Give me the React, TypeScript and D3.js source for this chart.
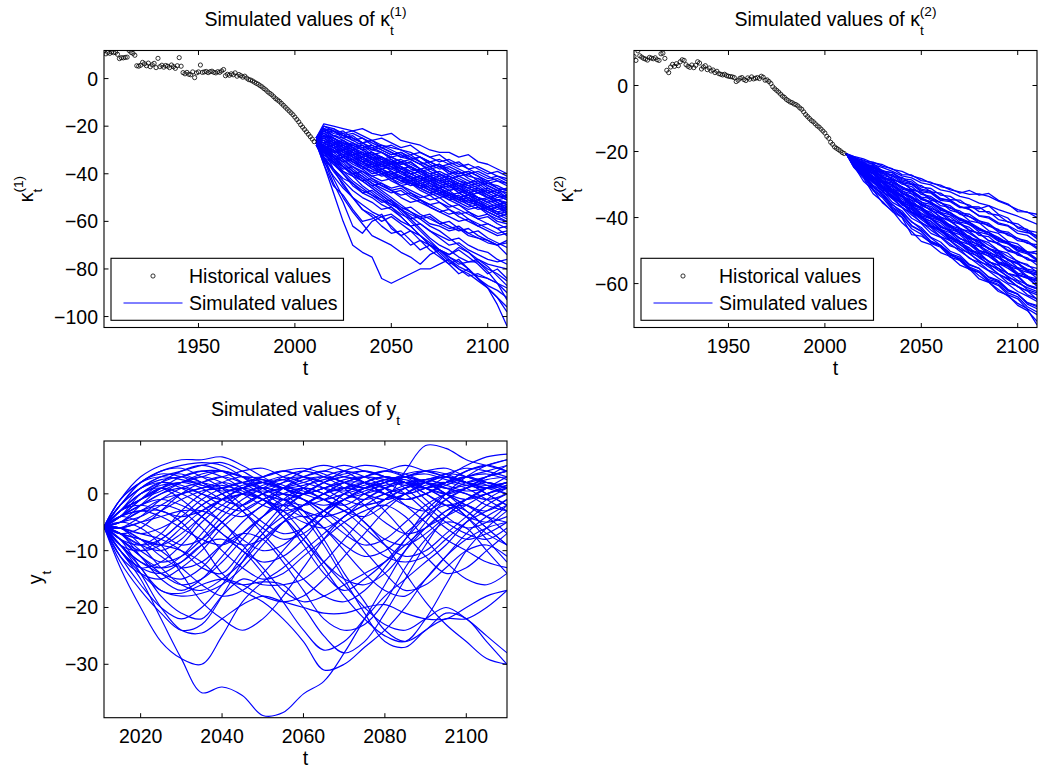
import React from 'react';
import * as d3 from 'd3';

// ---------------- DATA ----------------
const HIST_YEARS = d3.range(1901, 2011);
const SIM_YEARS = [2011, 2015, 2020, 2025, 2030, 2035, 2040, 2045, 2050, 2055, 2060, 2065, 2070, 2075, 2080, 2085, 2090, 2095, 2100, 2105, 2110];

const K1_HIST = [
  11.6, 10.4, 11.0, 10.6, 11.2, 10.9, 11.0, 10.2, 8.4, 8.8,
  8.7, 8.9, 9.0, 11.8, 11.0, 10.6, 9.8, 5.4, 5.2, 5.6,
  6.8, 6.2, 5.4, 6.5, 5.0, 5.8, 6.4, 4.6, 8.5, 5.0,
  5.6, 4.8, 5.5, 5.2, 4.6, 5.7, 5.0, 4.3, 5.4, 8.8,
  5.2, 2.5, 2.0, 2.6, 1.8, 1.6, 2.8, 0.4, 2.4, 2.8,
  5.7, 2.6, 2.8, 3.0, 2.5, 2.9, 3.1, 2.6, 2.4, 2.9,
  2.6, 3.2, 3.8, 1.2, 1.8, 1.4, 2.0, 1.6, 2.4, 1.0,
  1.7, 1.2, 0.6, 1.0, 0.2, -0.4, -0.6, -1.0, -1.5, -2.0,
  -2.4, -3.0, -3.5, -4.2, -4.8, -5.6, -6.2, -6.8, -7.6, -8.4,
  -9.0, -9.6, -10.4, -11.2, -12.0, -12.8, -13.6, -14.4, -15.2, -16.2,
  -17.2, -18.2, -19.4, -20.4, -21.4, -22.4, -23.4, -24.4, -25.4, -26.5,
];

const K2_HIST = [
  8.8, 7.6, 10.5, 9.0, 8.6, 8.2, 8.0, 7.7, 8.5, 8.3,
  8.1, 8.4, 7.8, 7.6, 9.6, 9.8, 8.2, 4.6, 3.9, 5.6,
  6.4, 5.8, 6.6, 6.0, 7.2, 7.8, 7.6, 6.3, 5.8, 5.5,
  6.2, 5.4, 6.1, 7.2, 6.8, 5.0, 5.6, 6.0, 4.8, 5.3,
  4.4, 4.7, 3.9, 4.3, 3.6, 3.4, 3.2, 3.4, 3.0, 2.8,
  2.7, 2.6, 2.4, 1.2, 1.6, 2.2, 2.4, 1.8, 1.5, 2.3,
  1.9, 2.6, 2.0, 2.2, 2.4, 2.1, 2.8, 2.5, 1.6, 1.7,
  1.2, 0.6, -0.4, -1.0, -1.5, -2.0, -2.6, -3.2, -3.6, -4.2,
  -4.6, -5.0, -5.2, -5.6, -5.8, -6.2, -6.8, -7.2, -8.0, -8.8,
  -9.4, -10.0, -10.6, -11.0, -11.6, -12.2, -12.6, -13.2, -13.8, -14.4,
  -15.4, -16.0, -17.2, -17.8, -18.6, -19.0, -19.4, -19.8, -20.3, -20.6,
];

const K1_SIM = [
  [-25, -19, -20, -21, -22, -21, -23, -24, -23, -26, -27, -28, -30, -31, -31, -33, -32, -35, -36, -38, -40],
  [-26, -21, -22, -24, -25, -27, -26, -28, -29, -30, -32, -31, -33, -35, -34, -36, -38, -37, -39, -41, -42],
  [-27, -24, -25, -27, -28, -27, -30, -31, -33, -32, -34, -36, -35, -37, -39, -40, -39, -41, -43, -42, -44],
  [-26, -25, -28, -27, -30, -32, -31, -33, -35, -36, -35, -38, -40, -39, -41, -43, -44, -42, -45, -47, -46],
  [-25, -22, -24, -23, -26, -28, -30, -29, -31, -33, -34, -33, -36, -38, -37, -39, -41, -42, -44, -43, -45],
  [-27, -28, -30, -32, -31, -34, -36, -35, -37, -39, -40, -42, -41, -43, -45, -44, -46, -48, -47, -49, -50],
  [-26, -27, -26, -29, -31, -33, -32, -35, -36, -38, -37, -40, -42, -44, -43, -45, -47, -46, -49, -51, -52],
  [-28, -30, -33, -35, -34, -37, -39, -41, -40, -43, -44, -46, -45, -48, -50, -49, -52, -53, -55, -54, -56],
  [-26, -24, -27, -29, -28, -30, -33, -34, -36, -35, -38, -39, -41, -43, -42, -45, -46, -48, -50, -49, -51],
  [-27, -29, -31, -30, -33, -35, -37, -36, -39, -41, -43, -42, -45, -46, -48, -50, -49, -51, -53, -55, -54],
  [-25, -23, -25, -28, -30, -29, -32, -34, -33, -35, -37, -39, -38, -40, -42, -44, -45, -47, -46, -48, -50],
  [-26, -26, -29, -31, -34, -36, -35, -38, -40, -42, -41, -44, -46, -48, -47, -50, -52, -51, -54, -56, -58],
  [-27, -31, -34, -33, -36, -38, -41, -40, -43, -45, -44, -47, -49, -48, -51, -53, -55, -54, -57, -59, -60],
  [-26, -28, -27, -30, -32, -31, -34, -36, -38, -37, -40, -42, -41, -44, -46, -45, -48, -50, -52, -51, -53],
  [-28, -33, -36, -39, -41, -43, -42, -45, -47, -46, -49, -51, -53, -52, -55, -57, -56, -59, -61, -63, -62],
  [-25, -20, -22, -24, -23, -25, -27, -29, -28, -30, -31, -33, -35, -34, -36, -35, -38, -40, -42, -41, -43],
  [-27, -30, -29, -32, -35, -37, -36, -39, -41, -43, -45, -44, -47, -49, -51, -50, -53, -55, -54, -57, -59],
  [-26, -25, -28, -26, -29, -31, -33, -35, -34, -37, -39, -41, -43, -42, -45, -47, -49, -48, -50, -52, -55],
  [-27, -32, -35, -38, -37, -40, -43, -45, -47, -49, -48, -51, -53, -55, -57, -56, -59, -61, -63, -65, -64],
  [-26, -27, -30, -33, -32, -35, -37, -39, -42, -41, -44, -46, -48, -50, -49, -52, -54, -53, -56, -58, -60],
  [-25, -21, -23, -22, -25, -27, -26, -29, -31, -33, -32, -35, -37, -36, -39, -41, -40, -43, -45, -47, -48],
  [-27, -29, -32, -34, -37, -39, -41, -43, -42, -45, -47, -49, -51, -50, -53, -55, -57, -59, -58, -61, -63],
  [-26, -24, -26, -29, -31, -34, -33, -36, -37, -39, -42, -41, -43, -45, -47, -46, -48, -50, -51, -53, -52],
  [-28, -34, -38, -42, -44, -47, -49, -51, -53, -55, -57, -59, -58, -61, -63, -62, -65, -67, -68, -70, -69],
  [-26, -28, -31, -30, -33, -36, -38, -40, -39, -42, -44, -43, -46, -47, -49, -51, -50, -53, -55, -57, -56],
  [-27, -31, -33, -36, -39, -41, -44, -46, -48, -47, -50, -52, -54, -56, -55, -58, -60, -62, -61, -63, -66],
  [-25, -22, -21, -24, -26, -25, -28, -30, -32, -31, -34, -36, -38, -37, -40, -39, -42, -44, -43, -46, -47],
  [-26, -27, -29, -28, -31, -33, -35, -37, -36, -38, -40, -42, -44, -46, -45, -48, -50, -52, -54, -53, -55],
  [-27, -30, -34, -37, -40, -42, -45, -44, -47, -50, -52, -51, -54, -56, -58, -60, -59, -62, -64, -66, -65],
  [-26, -23, -26, -28, -27, -30, -32, -31, -34, -36, -35, -38, -40, -42, -41, -43, -45, -44, -47, -49, -51],
  [-26, -29, -28, -31, -33, -35, -34, -37, -38, -40, -42, -41, -43, -45, -47, -46, -49, -50, -52, -54, -53],
  [-25, -24, -27, -26, -29, -32, -34, -33, -36, -38, -37, -40, -42, -41, -44, -46, -48, -47, -49, -51, -50],
  [-27, -26, -28, -31, -30, -33, -35, -37, -36, -39, -41, -43, -42, -45, -44, -47, -49, -51, -50, -52, -54],
  [-26, -22, -25, -27, -29, -28, -31, -33, -35, -34, -36, -38, -37, -40, -42, -41, -43, -45, -44, -46, -49],
  [-28, -31, -30, -33, -35, -38, -37, -40, -42, -41, -44, -45, -47, -49, -48, -51, -53, -52, -55, -57, -56],
  [-26, -25, -24, -26, -28, -30, -29, -31, -33, -35, -34, -36, -39, -41, -40, -42, -44, -43, -46, -48, -47],
  [-27, -28, -31, -29, -32, -34, -36, -38, -37, -40, -42, -41, -44, -46, -45, -48, -47, -50, -52, -51, -53],
  [-25, -21, -24, -25, -24, -27, -29, -28, -30, -32, -34, -33, -35, -37, -36, -38, -40, -39, -41, -43, -44],
  [-26, -30, -32, -35, -34, -37, -39, -38, -41, -43, -42, -45, -47, -46, -49, -51, -50, -53, -55, -54, -57],
  [-27, -25, -27, -30, -32, -31, -34, -36, -35, -38, -40, -39, -42, -44, -43, -46, -48, -47, -50, -51, -53],
  [-26, -27, -29, -32, -34, -33, -36, -38, -40, -39, -42, -44, -43, -46, -48, -50, -49, -52, -54, -53, -56],
  [-25, -23, -22, -25, -27, -29, -28, -30, -32, -31, -33, -35, -37, -36, -38, -40, -39, -41, -44, -45, -47],
  [-27, -30, -33, -32, -35, -37, -40, -39, -42, -44, -43, -46, -48, -47, -50, -52, -51, -54, -56, -58, -57],
  [-26, -26, -28, -30, -29, -32, -34, -33, -35, -37, -39, -38, -41, -43, -42, -44, -46, -45, -48, -50, -49],
  [-28, -32, -35, -37, -40, -39, -42, -44, -46, -45, -48, -50, -49, -52, -54, -53, -56, -58, -57, -60, -61],
  [-26, -24, -25, -28, -30, -32, -31, -34, -36, -35, -37, -39, -41, -40, -43, -45, -44, -46, -48, -47, -50],
  [-27, -29, -30, -33, -32, -35, -38, -40, -39, -42, -43, -45, -44, -47, -49, -48, -51, -52, -54, -56, -55],
  [-25, -20, -21, -23, -22, -24, -26, -25, -27, -29, -28, -31, -33, -32, -35, -37, -36, -38, -40, -39, -41],
  [-27, -33, -38, -43, -47, -50, -52, -55, -54, -57, -59, -58, -61, -62, -64, -63, -66, -67, -69, -70, -68],
  [-26, -31, -36, -40, -45, -48, -47, -50, -53, -55, -54, -57, -59, -61, -60, -63, -65, -64, -67, -69, -71],
  [-27, -35, -41, -46, -50, -53, -56, -58, -57, -60, -62, -61, -64, -66, -68, -67, -70, -72, -73, -76, -78],
  [-26, -30, -34, -39, -43, -46, -49, -52, -51, -54, -56, -58, -57, -60, -62, -64, -63, -66, -68, -70, -74],
  [-27, -36, -48, -60, -70, -73, -75, -84, -86, -84, -82, -80, -80, -78, -76, -80, -82, -85, -88, -92, -96],
  [-27, -34, -44, -52, -62, -65, -60, -58, -62, -66, -70, -68, -72, -75, -78, -76, -80, -84, -88, -95, -104],
  [-26, -30, -38, -45, -50, -55, -58, -62, -65, -64, -68, -72, -70, -74, -78, -82, -80, -84, -88, -92, -98],
  [-27, -30, -35, -40, -44, -48, -50, -53, -55, -58, -62, -66, -70, -73, -77, -80, -83, -82, -84, -86, -90],
  [-26, -29, -33, -37, -40, -43, -46, -49, -52, -56, -60, -64, -68, -72, -74, -72, -75, -78, -82, -80, -84],
  [-27, -33, -39, -44, -50, -55, -57, -60, -58, -61, -64, -66, -70, -72, -75, -77, -80, -84, -87, -89, -92],
  [-26, -28, -32, -35, -39, -42, -45, -48, -51, -55, -59, -63, -67, -70, -72, -75, -77, -77, -80, -82, -85],
  [-27, -33, -42, -50, -56, -61, -66, -68, -70, -73, -75, -78, -74, -72, -76, -79, -81, -83, -84, -86, -88],
  [-26, -29, -33, -37, -41, -45, -48, -51, -54, -58, -62, -66, -69, -72, -75, -78, -77, -76, -79, -83, -87],
  [-26, -28, -31, -34, -38, -41, -44, -47, -50, -53, -56, -59, -62, -64, -67, -70, -73, -77, -81, -86, -93],
  [-27, -36, -45, -49, -55, -60, -59, -57, -63, -66, -64, -68, -70, -72, -74, -71, -73, -76, -78, -79, -80],
  [-26, -29, -33, -37, -40, -43, -46, -49, -52, -55, -58, -61, -64, -67, -70, -69, -72, -74, -76, -77, -76],
];

const K2_SIM = [
  [-20.6, -21.6, -22.9, -23.2, -24.5, -25.2, -27.0, -27.1, -28.8, -29.3, -30.6, -31.2, -32.6, -31.8, -33.2, -32.7, -34.8, -35.9, -38.2, -38.3, -40.0],
  [-20.6, -22.4, -23.2, -25.1, -25.7, -27.6, -27.8, -29.9, -30.3, -32.2, -32.6, -34.6, -34.7, -36.7, -36.8, -38.8, -39.3, -41.4, -41.9, -43.9, -44.5],
  [-20.6, -22.6, -24.9, -25.9, -28.0, -28.7, -30.9, -31.7, -33.8, -34.2, -36.4, -36.9, -39.0, -39.7, -41.6, -42.2, -44.4, -44.9, -47.0, -47.5, -49.4],
  [-20.6, -23.5, -25.1, -27.9, -28.9, -31.4, -32.3, -34.8, -35.7, -38.0, -38.7, -41.2, -41.9, -44.0, -44.7, -47.0, -47.7, -49.9, -50.6, -52.8, -53.4],
  [-20.6, -23.5, -26.9, -28.6, -31.7, -33.1, -36.2, -37.2, -40.2, -41.1, -43.6, -44.6, -47.2, -48.2, -50.6, -51.6, -54.0, -54.8, -57.4, -58.2, -60.6],
  [-20.6, -24.5, -27.2, -30.9, -33.1, -36.8, -38.8, -42.4, -44.1, -47.2, -48.4, -50.9, -52.0, -54.4, -55.4, -58.0, -59.0, -61.8, -63.1, -66.2, -67.6],
  [-20.6, -22.2, -24.4, -24.8, -27.2, -28.0, -29.9, -30.6, -33.0, -33.6, -35.6, -36.4, -38.6, -39.0, -41.0, -41.8, -44.0, -44.4, -46.4, -47.1, -49.0],
  [-20.6, -23.8, -25.4, -28.4, -29.6, -32.6, -33.6, -36.2, -37.1, -39.6, -40.4, -43.0, -43.8, -46.4, -47.1, -49.6, -50.6, -53.0, -54.0, -56.4, -57.2],
  [-20.6, -22.7, -25.4, -26.6, -29.2, -30.0, -32.6, -33.6, -36.0, -36.6, -39.0, -39.8, -42.0, -43.0, -45.4, -45.8, -48.2, -49.0, -51.4, -52.2, -54.4],
  [-20.6, -24.3, -26.6, -30.2, -32.0, -35.4, -37.0, -40.2, -41.8, -44.8, -46.0, -48.6, -49.6, -52.4, -53.6, -56.0, -57.2, -59.8, -60.8, -63.4, -64.6],
  [-20.6, -21.8, -23.4, -23.6, -25.9, -26.4, -28.2, -28.6, -30.8, -31.2, -33.2, -33.6, -35.4, -36.2, -38.2, -38.2, -40.6, -41.2, -42.8, -43.6, -45.9],
  [-20.6, -23.7, -25.6, -29.0, -30.6, -33.6, -35.1, -38.2, -39.6, -42.4, -43.6, -45.9, -47.2, -49.8, -50.6, -53.4, -54.4, -57.0, -57.6, -60.4, -61.6],
  [-20.6, -22.3, -25.0, -26.0, -28.8, -29.6, -32.0, -32.8, -35.4, -36.0, -38.4, -39.2, -41.4, -42.0, -44.4, -45.2, -47.2, -48.0, -50.2, -51.0, -53.0],
  [-20.6, -24.7, -27.6, -31.8, -34.1, -37.6, -39.8, -43.4, -45.0, -47.8, -49.0, -52.0, -53.0, -55.8, -56.6, -59.2, -60.2, -62.8, -64.0, -67.0, -68.6],
  [-20.6, -23.3, -26.6, -28.0, -31.2, -32.6, -35.4, -36.6, -39.4, -40.4, -43.0, -44.0, -46.4, -47.4, -50.0, -50.8, -53.4, -54.2, -56.8, -57.6, -60.0],
  [-20.6, -22.1, -24.2, -24.6, -26.8, -27.4, -29.4, -30.0, -32.2, -32.6, -34.8, -35.2, -37.0, -36.8, -37.4, -36.4, -39.0, -40.2, -43.2, -44.2, -46.4],
  [-20.6, -23.3, -24.8, -27.8, -29.2, -32.0, -33.2, -35.8, -36.8, -39.2, -40.0, -42.4, -43.4, -46.0, -47.0, -49.4, -50.2, -52.8, -53.6, -56.0, -56.8],
  [-20.6, -24.3, -29.0, -31.6, -35.6, -38.0, -41.6, -44.2, -47.2, -48.2, -50.6, -51.8, -54.4, -55.6, -58.6, -59.6, -62.4, -63.6, -66.6, -68.2, -71.4],
  [-20.6, -24.8, -28.0, -32.8, -35.2, -38.2, -40.0, -45.2, -45.6, -47.6, -48.6, -51.4, -52.4, -55.0, -56.2, -58.8, -59.6, -62.2, -63.2, -65.8, -67.0],
  [-20.6, -22.5, -25.2, -26.4, -29.0, -30.2, -32.8, -33.8, -36.4, -37.6, -40.0, -40.8, -43.4, -44.2, -46.6, -47.6, -50.0, -50.8, -53.4, -54.2, -56.6],
  [-20.6, -23.5, -25.2, -28.2, -29.4, -32.2, -33.4, -36.0, -37.4, -40.0, -41.0, -43.6, -44.6, -47.2, -48.2, -50.8, -51.6, -54.2, -55.2, -57.8, -58.6],
  [-20.6, -23.5, -27.2, -29.0, -32.2, -34.0, -37.0, -38.6, -41.6, -43.0, -45.8, -47.0, -49.6, -50.8, -53.4, -54.4, -57.2, -58.4, -61.0, -62.2, -64.8],
  [-20.6, -22.5, -23.2, -25.6, -26.2, -28.6, -29.4, -31.6, -32.4, -34.8, -35.4, -37.8, -38.6, -41.0, -41.6, -44.0, -44.8, -47.2, -48.0, -50.4, -51.0],
  [-20.6, -23.1, -26.2, -27.8, -30.8, -32.2, -35.0, -36.2, -39.0, -40.2, -42.8, -43.8, -46.4, -47.4, -50.0, -51.0, -53.6, -54.6, -57.2, -58.2, -60.8],
  [-20.6, -22.3, -24.8, -25.6, -28.2, -29.2, -31.4, -32.2, -34.6, -35.4, -37.8, -38.6, -40.8, -41.6, -43.8, -44.6, -47.0, -47.6, -49.8, -50.6, -52.8],
  [-20.6, -24.3, -26.8, -30.6, -32.6, -36.2, -38.0, -41.4, -43.0, -46.0, -47.4, -50.2, -51.4, -54.2, -55.4, -58.2, -59.4, -62.0, -63.2, -65.8, -66.6],
  [-20.6, -22.6, -25.6, -26.8, -29.6, -30.8, -33.6, -34.8, -37.4, -38.4, -41.0, -42.2, -44.8, -45.6, -48.2, -49.2, -51.6, -52.6, -55.2, -56.0, -58.4],
  [-20.6, -23.9, -26.0, -29.4, -31.0, -34.2, -35.6, -38.6, -40.0, -42.8, -44.0, -46.8, -48.0, -50.6, -51.8, -54.4, -55.4, -58.2, -59.2, -61.8, -62.8],
  [-20.6, -22.1, -24.6, -25.4, -27.8, -28.6, -31.0, -32.0, -34.4, -35.2, -37.6, -38.4, -40.8, -41.4, -43.8, -44.4, -46.6, -47.4, -49.8, -50.4, -52.6],
  [-20.6, -23.3, -25.0, -28.0, -29.4, -32.4, -33.8, -36.6, -37.8, -40.4, -41.6, -44.2, -45.2, -47.8, -48.8, -51.2, -52.2, -54.8, -55.6, -58.2, -59.0],
  [-20.6, -21.8, -23.8, -24.2, -26.0, -26.4, -28.6, -29.2, -31.4, -32.0, -34.2, -34.8, -36.8, -37.4, -39.6, -40.2, -42.0, -42.6, -44.8, -45.4, -47.4],
  [-20.6, -23.7, -25.8, -29.2, -30.8, -34.0, -35.4, -38.4, -39.8, -42.6, -43.6, -46.4, -47.4, -50.0, -51.0, -53.4, -54.4, -57.0, -58.0, -60.6, -61.6],
  [-20.6, -24.5, -27.4, -31.4, -33.6, -37.2, -39.2, -42.6, -44.2, -47.2, -48.6, -51.4, -52.6, -55.4, -56.6, -59.4, -60.6, -63.4, -64.6, -67.8, -72.5],
  [-20.6, -21.9, -22.6, -24.0, -24.9, -26.0, -27.4, -28.0, -29.5, -30.1, -31.6, -32.2, -33.6, -34.3, -35.6, -36.4, -37.6, -38.6, -39.6, -40.8, -42.0],
  [-20.6, -22.5, -23.6, -25.6, -26.6, -28.4, -29.4, -31.4, -32.4, -34.2, -35.4, -37.2, -38.0, -39.8, -41.0, -42.6, -43.6, -45.4, -46.2, -47.8, -48.2],
  [-20.6, -22.4, -24.2, -25.4, -27.6, -28.8, -30.8, -32.0, -34.0, -35.4, -37.0, -38.6, -40.2, -41.4, -43.2, -44.6, -46.0, -47.8, -48.8, -50.4, -51.0],
  [-20.6, -23.0, -24.6, -26.8, -28.2, -30.4, -31.8, -33.8, -35.2, -37.2, -38.4, -40.6, -41.6, -43.8, -44.8, -47.0, -48.0, -50.2, -51.0, -52.6, -53.2],
  [-20.6, -22.8, -25.0, -26.6, -28.8, -30.4, -32.4, -34.2, -36.2, -37.6, -39.8, -41.2, -43.2, -44.8, -46.6, -48.4, -50.0, -51.8, -53.2, -54.6, -55.4],
  [-20.6, -23.2, -25.2, -27.4, -29.4, -31.6, -33.4, -35.6, -37.2, -39.4, -41.0, -43.0, -44.8, -46.6, -48.6, -50.2, -52.2, -53.6, -55.6, -56.6, -57.4],
  [-20.6, -23.4, -25.8, -28.0, -30.2, -32.4, -34.4, -36.4, -38.6, -40.4, -42.4, -44.4, -46.2, -48.2, -50.0, -51.8, -53.8, -55.4, -57.4, -58.4, -59.2],
  [-20.6, -23.0, -26.0, -27.8, -30.6, -32.6, -35.2, -37.0, -39.6, -41.2, -43.6, -45.4, -47.6, -49.2, -51.6, -53.2, -55.4, -57.0, -59.0, -60.4, -61.2],
  [-20.6, -23.8, -26.2, -28.8, -31.2, -33.8, -36.0, -38.4, -40.6, -42.8, -44.8, -47.0, -49.0, -51.0, -53.0, -55.0, -57.0, -58.8, -60.8, -62.2, -63.4],
  [-20.6, -24.0, -26.8, -29.4, -32.0, -34.4, -36.8, -39.2, -41.4, -43.8, -45.8, -48.0, -50.2, -52.2, -54.4, -56.2, -58.4, -60.2, -62.4, -63.8, -65.4],
  [-20.6, -24.2, -27.4, -30.4, -33.2, -36.0, -38.6, -41.2, -43.6, -46.2, -48.4, -50.8, -53.0, -55.2, -57.6, -59.6, -61.8, -63.8, -66.0, -67.6, -69.4],
  [-20.6, -22.0, -23.8, -24.4, -26.4, -27.0, -29.0, -29.8, -31.8, -32.4, -34.4, -34.8, -36.6, -37.6, -39.4, -39.8, -41.6, -42.4, -44.0, -44.6, -45.4],
  [-20.6, -22.8, -24.0, -26.2, -27.6, -29.4, -30.6, -32.8, -34.2, -35.8, -37.2, -39.2, -40.4, -42.2, -43.4, -45.2, -46.4, -48.0, -49.2, -50.6, -50.2],
  [-20.6, -23.4, -25.4, -27.8, -29.6, -31.6, -33.2, -35.4, -37.0, -39.0, -40.6, -42.6, -44.2, -46.0, -47.6, -49.4, -51.0, -52.6, -54.0, -55.6, -56.2],
  [-20.6, -23.6, -26.4, -28.6, -31.2, -33.4, -35.8, -37.6, -40.0, -41.8, -44.2, -46.0, -48.2, -50.0, -52.2, -54.0, -56.0, -57.8, -59.8, -61.2, -62.4],
  [-20.6, -21.5, -22.2, -23.4, -24.0, -25.4, -26.0, -27.4, -28.2, -29.6, -30.2, -31.6, -32.2, -33.0, -32.8, -33.6, -35.0, -36.2, -37.6, -38.4, -39.0],
];

const Y_SIM = [
  [-5.8, -1, 2, 3, 2.5, 1.5, 0.5, 1, 2, 3, 2, 1, 0.5, 1.5, 2.5, 3, 2, 1, 1.5, 2.5, 3],
  [-5.8, -3, 0, 1.5, 2, 3, 4, 3, 2, 1, 0, 1, 2, 3, 2.5, 1.5, 1, 2, 3, 3.5, 2.5],
  [-5.8, -4, -2, 0, 1, 0, -1, 0, 1.5, 2.5, 3, 2, 0, -1, 0, 1.5, 2, 3, 2, 1, 0],
  [-5.8, -2, 1, 3, 4, 5, 5.5, 4, 2, 1, 1.5, 2.5, 3.5, 4, 3, 2, 2.5, 3.5, 4.5, 4, 3],
  [-5.8, -6, -5, -3, -1, 0.5, 1, 2, 2.5, 1.5, 0, -1, 0, 1, 2, 3, 3.5, 2.5, 1.5, 1, 2],
  [-5.8, -7, -9, -8, -5, -2, 0, 1, 0, -2, -4, -3, -1, 0.5, 1.5, 2, 1, 0, -1, 0, 1.5],
  [-5.8, -5, -3, -1, 0, 1, 1.5, 0.5, -1, -3, -5, -6, -4, -1, 1, 2, 2.5, 1.5, 0.5, 1, 2],
  [-5.8, -3, -1, 0.5, 2, 3, 2, 0, -2, -3, -2, 0, 2, 3, 4, 3.5, 2, 0, -2, -3, -1],
  [-5.8, -8, -11, -13, -12, -9, -5, -2, 0, 1, 2, 3, 2, 1, 0, -1, 0, 1.5, 3, 4, 5],
  [-5.8, -9, -12, -14, -15, -13, -9, -5, -2, 0, 1, 0, -2, -5, -8, -9, -7, -4, -1, 1, 2],
  [-5.8, -7, -9, -10, -8, -4, -1, 1, 2, 1, 0, 1, 2.5, 3, 2, 0, -3, -6, -8, -7, -5],
  [-5.8, -10, -14, -17, -18, -17.5, -16, -13, -9, -5, -2, 0, 1, 2, 1, 0, 1, 2, 3, 2, 1],
  [-5.8, -11, -16, -20, -22, -20, -16, -11, -7, -3, 0, 2, 3, 4, 3, 1, -2, -5, -7, -8, -6],
  [-5.8, -12, -17, -21, -24, -23, -18, -12, -7, -4, -2, 0, 2, 3, 4, 5, 4, 3, 2, 3, 4],
  [-5.8, -13, -20, -26, -29, -30, -25, -19, -15.5, -13, -10, -7, -4, -2, 0, 1, 2, 3, 2, 1, 2],
  [-5.8, -10, -15, -22, -29, -35, -34, -35.5, -39, -38.5, -35.2, -33, -28, -22, -16, -10, -5, -1, 1, 2, 1],
  [-5.8, -9, -13, -18, -21, -22, -18, -15, -16, -16, -15, -12, -8, -4, -1, 1, 2, 1, 0, -2, -3],
  [-5.8, -6, -7, -8, -10, -13, -14, -10, -6, -2, 1, 3, 4, 3, 1, -2, -5, -8, -10, -12, -13],
  [-5.8, -4, -2, -1, -2, -4, -7, -10, -12, -11, -8, -4, -1, 1, 2, 3, 2, 0, -3, -6, -9],
  [-5.8, -3, 0, 2, 3, 2, 0, -3, -7, -11, -15, -18, -19, -17, -13, -8, -3, 0, 2, 3, 4],
  [-5.8, -5, -4, -2, 0, 1, 2, 1, -1, -4, -8, -13, -18, -22, -25, -26, -22, -16, -10, -6, -3],
  [-5.8, -2, 2, 4, 5, 5.5, 5, 3, 0, -4, -9, -14, -17, -15, -12, -8, -4, 0, 3, 5, 6],
  [-5.8, -7, -8, -9, -10, -12, -15, -16, -15.5, -16, -20, -25, -28, -26, -21, -15, -9, -4, -1, 1, 2],
  [-5.8, -8, -11, -14, -16, -15, -12, -8, -4, -1, -4, -9, -15, -21, -26, -27, -24, -22, -22, -20, -17],
  [-5.8, -6, -8, -11, -13, -12, -9, -7, -8, -12, -17, -22, -24, -23, -19, -13, -8, -5, -6, -10, -14],
  [-5.8, -4, -3, -4, -6, -8, -9, -7, -4, -1, 1, 0, -2, -5, -9, -14, -19, -23, -26, -29, -30],
  [-5.8, -3, -1, 1, 2, 2, 1, 0, -1, -3, -7, -12, -16, -20, -23, -24, -22, -20, -22, -25, -28],
  [-5.8, -7, -10, -12, -11, -8, -4, -1, 1, 3, 4, 3, 1, -2, -5, -7, -6, -3, -1, 0, 1],
  [-5.8, -5, -6, -9, -14, -19, -22, -24, -22, -18, -13, -8, -4, -2, -1, 4, 8.5, 8, 6, 5, 4],
  [-5.8, -1, 3, 5, 6, 6, 6.5, 5, 3, 1, 0, 1, 2, 2, 1, 0, 1, 3, 5, 6.5, 7],
  [-5.8, -8, -10, -9, -6, -3, -1, 0, 0.5, 0, -1, -3, -6, -10, -14, -17, -16, -13, -10, -9, -11],
  [-5.8, -6, -5, -4, -3, -3, -5, -9, -13, -17, -19, -18, -16, -14, -12, -9, -6, -4, -2, 0, 1],
  [-5.8, -4, -3, -3, -5, -9, -14, -17, -19, -22, -26, -31, -30, -27, -24, -20, -15, -11, -8, -6, -5],
  [-5.8, -9, -12, -13, -11, -7, -3, 0, 1, 0, -3, -8, -14, -19, -24, -26, -24, -21, -22, -26, -30],
  [-5.8, -10, -13, -14, -12, -9, -8, -10, -14, -19, -24, -27.5, -26, -22, -18, -15, -12, -9, -5, -2, 0],
  [-5.8, -3, 1, 3, 3.5, 2, 0, -3, -6, -8, -7, -4, -1, 1, 2, 2.5, 1, -1, -4, -7, -9],
  [-5.8, -2, 1, 2.5, 3, 4, 4, 3, 3, 4, 4.5, 3.5, 2, 1, 2, 3, 4, 4.5, 3, 2, 1],
  [-5.8, -4, 0, 2, 1, -1, -3, -4, -2, 1, 3, 4, 3, 2, 0, -1, 0, 2, 4, 5, 6],
  [-5.8, -6, -4, -1, 1, 2, 3, 4, 4.5, 3, 1, -1, -2, 0, 2, 3.5, 4, 3, 2, 1.5, 2],
  [-5.8, -7, -6, -3, 0, 2, 3, 2, 1, 2, 3, 4, 5, 4, 3, 2, 1, 2, 3, 2, 1],
  [-5.8, -8, -13, -17, -17.5, -16, -15, -16, -18, -19, -18, -15, -11, -7, -3, 0, 2, 3, 2, 0, -2],
  [-5.8, -9, -14, -20, -24, -24.5, -22, -19.5, -18, -19, -20, -21, -21, -20, -19.5, -21, -22, -22, -20, -18, -17],
  [-5.8, -4, -1, 1, 0, -2, -5, -8, -10, -9, -6, -3, 0, 2, 3, 2, 0, -2, -1, 1, 3],
  [-5.8, -6, -7, -6, -4, -1, 1, 2, 1, -1, -2, -1, 1, 3, 4, 3, 2, 1, 0, -1, 0],
  [-5.8, -3, -1, 1, 3, 4, 3, 1, -1, -2, 0, 2, 3, 2, 0, -2, -3, -1, 1, 3, 4],
  [-5.8, -2, 1, 2, 1.5, 0, -2, -3, -1, 1, 2.5, 3, 2, 0, -1, 0, 2, 3.5, 3, 1.5, 0],
  [-5.8, -6, -8, -9, -7, -4, -1, 1, 2, 2.5, 1, -1, -3, -4, -2, 0, 1.5, 2, 1, -1, -3],
  [-5.8, -9, -10, -8, -5, -2, 0, 1.5, 2, 1, -1, -4, -7, -9, -8, -5, -2, 0, 1, 2, 1],
  [-5.8, -4, -5, -7, -9, -8, -5, -2, 0, 1, 0.5, -1, -3, -6, -9, -11, -10, -7, -4, -1, 1],
  [-5.8, -1, 2, 4, 4.5, 3, 1, -2, -5, -7, -6, -3, 0, 2, 3, 2, -1, -4, -6, -5, -2],
  [-5.8, -11, -14, -15, -13, -10, -6, -3, -1, 0, -1, -3, -5, -8, -11, -12, -11, -8, -5, -3, -1],
  [-5.8, -7, -11, -15, -17, -15, -11, -7, -4, -2, -3, -6, -10, -14, -17, -18, -15, -11, -7, -4, -2],
  [-5.8, -5, -3, -2, -3, -6, -10, -13, -15, -14, -11, -8, -5, -3, -2, -4, -8, -12, -15, -16, -14],
  [-5.8, -3, 0, 1, -1, -4, -7, -9, -8, -5, -2, 0, 1, 0, -3, -7, -11, -14, -13, -10, -7],
  [-5.8, -8, -9, -7, -3, 0, 2, 3, 2.5, 1, -1, -2, -1, 1, 2.5, 3, 2, 0, -2, -4, -5],
  [-5.8, -4, -2, 0, 2, 3.5, 4, 3, 1, -1, -3, -4, -3, -1, 1, 3, 4, 3.5, 2, 0, -2],
  [-5.8, -6, -9, -13, -16, -17, -15, -12, -8, -5, -4, -6, -9, -11, -10, -7, -4, -2, -3, -6, -9],
  [-5.8, -2, 2, 3.5, 3, 1.5, 1, 2, 3, 4, 3, 1, -1, -2, -1, 1, 2.5, 3, 2, 1, 1.5],
  [-5.8, -5, -2, 1, 2, 1, -1, -2, 0, 2, 4, 5, 4, 2, 0, -1, 0, 2, 4, 5, 4],
  [-5.8, -10, -13, -12, -9, -5, -2, 0, -1, -4, -8, -12, -15, -16, -14, -10, -6, -3, -2, -4, -7],
  [-5.8, -3, -2, -3, -4, -3, -1, 1, 3, 4, 3, 2, 1, 2, 3, 2, 0, -2, -4, -5, -4],
  [-5.8, -7, -8, -10, -13, -16, -18, -17, -14, -10, -6, -3, -1, 0, 1, 2, 1, -1, -4, -8, -12],
  [-5.8, -4, -1, 2, 4, 5, 4, 2, 0, -1, 0, 2, 4, 5, 4.5, 3, 1, 0, 1, 3, 5],
];

const K1_XTICKS = [1950, 2000, 2050, 2100];
const K1_YTICKS = [0, -20, -40, -60, -80, -100];
const K2_YTICKS = [0, -20, -40, -60];
const Y_XTICKS = [2020, 2040, 2060, 2080, 2100];
const Y_YTICKS = [0, -10, -20, -30];

const K_XDOM: [number, number] = [1901, 2110];
const K1_YDOM: [number, number] = [-104.6, 11.8];
const K2_YDOM: [number, number] = [-73.3, 10.6];
const Y_XDOM: [number, number] = [2011, 2110];
const Y_YDOM: [number, number] = [-39.4, 9.3];

// ---------------- STYLE ----------------
const FONT = '"Liberation Sans", Arial, Helvetica, sans-serif';
const FS = 19.5;
const SFS = 13.7;
const BLUE = '#0000ff';

type Box = { x0: number; x1: number; y0: number; y1: number };
const P1: Box = { x0: 104, x1: 507, y0: 50.5, y1: 327.5 };
const P2: Box = { x0: 634, x1: 1037, y0: 50.5, y1: 327.5 };
const P3: Box = { x0: 104, x1: 507, y0: 441, y1: 717.7 };

const fmt = (v: number) => (v < 0 ? '\u2212' + Math.abs(v) : String(v));

function Frame({ box, xs, ys, xticks, yticks }: any) {
  const tl = 4.5;
  return (
    <g>
      <rect x={box.x0} y={box.y0} width={box.x1 - box.x0} height={box.y1 - box.y0}
        fill="none" stroke="#000" strokeWidth={1.1} />
      {xticks.map((t: number) => (
        <g key={'x' + t}>
          <line x1={xs(t)} x2={xs(t)} y1={box.y1} y2={box.y1 - tl} stroke="#000" strokeWidth={1} />
          <line x1={xs(t)} x2={xs(t)} y1={box.y0} y2={box.y0 + tl} stroke="#000" strokeWidth={1} />
          <text x={xs(t)} y={box.y1 + 25.3} textAnchor="middle" fontSize={FS} fontFamily={FONT}>{fmt(t)}</text>
        </g>
      ))}
      {yticks.map((t: number) => (
        <g key={'y' + t}>
          <line x1={box.x0} x2={box.x0 + tl} y1={ys(t)} y2={ys(t)} stroke="#000" strokeWidth={1} />
          <line x1={box.x1} x2={box.x1 - tl} y1={ys(t)} y2={ys(t)} stroke="#000" strokeWidth={1} />
          <text x={box.x0 - 6} y={ys(t)} dy="0.36em" textAnchor="end" fontSize={FS} fontFamily={FONT}>{fmt(t)}</text>
        </g>
      ))}
    </g>
  );
}

function KappaPanel({ box, hist, sims, ydom, yticks, idx, clipId, ylabX }: any) {
  const xs = d3.scaleLinear().domain(K_XDOM).range([box.x0, box.x1]);
  const ys = d3.scaleLinear().domain(ydom).range([box.y1, box.y0]);
  const line = d3.line<number>().x((_, i) => xs(SIM_YEARS[i])).y((d) => ys(d));
  const cx = (box.x0 + box.x1) / 2;
  const cy = (box.y0 + box.y1) / 2;
  return (
    <g>
      <defs>
        <clipPath id={clipId}>
          <rect x={box.x0} y={box.y0} width={box.x1 - box.x0} height={box.y1 - box.y0} />
        </clipPath>
      </defs>
      <g clipPath={`url(#${clipId})`}>
        {sims.map((s: number[], i: number) => (
          <path key={i} d={line(s) || ''} fill="none" stroke={BLUE} strokeWidth={1.3} strokeLinejoin="round" />
        ))}
        {hist.map((v: number, i: number) => (
          <circle key={'h' + i} cx={xs(HIST_YEARS[i])} cy={ys(v)} r={2.1} fill="none" stroke="#000" strokeWidth={0.8} />
        ))}
      </g>
      <Frame box={box} xs={xs} ys={ys} xticks={K1_XTICKS} yticks={yticks} />
      <text x={cx} y={26} textAnchor="middle" fontSize={FS} fontFamily={FONT}>
        Simulated values of κ<tspan dy={8.5} fontSize={SFS}>t</tspan>
        <tspan dx={-4} dy={-19} fontSize={SFS}>({idx})</tspan>
      </text>
      <text x={cx} y={box.y1 + 47.5} textAnchor="middle" fontSize={FS} fontFamily={FONT}>t</text>
      <text transform={`translate(${ylabX},${cy}) rotate(-90)`} textAnchor="middle" fontSize={FS} fontFamily={FONT}>
        κ<tspan dy={8.5} fontSize={SFS}>t</tspan>
        <tspan dx={-4} dy={-19} fontSize={SFS}>({idx})</tspan>
      </text>
      <g>
        <rect x={box.x0 + 7} y={258.3} width={232.5} height={62} fill="#fff" stroke="#000" strokeWidth={1.1} />
        <circle cx={box.x0 + 49} cy={276} r={2.1} fill="none" stroke="#000" strokeWidth={0.8} />
        <line x1={box.x0 + 19.5} x2={box.x0 + 78.5} y1={303} y2={303} stroke={BLUE} strokeWidth={1} />
        <text x={box.x0 + 85} y={283.3} fontSize={FS} fontFamily={FONT}>Historical values</text>
        <text x={box.x0 + 85} y={310} fontSize={FS} fontFamily={FONT}>Simulated values</text>
      </g>
    </g>
  );
}

function YPanel({ box }: { box: Box }) {
  const xs = d3.scaleLinear().domain(Y_XDOM).range([box.x0, box.x1]);
  const ys = d3.scaleLinear().domain(Y_YDOM).range([box.y1, box.y0]);
  const line = d3.line<number>().x((_, i) => xs(SIM_YEARS[i])).y((d) => ys(d)).curve(d3.curveCatmullRom.alpha(0.5));
  const cx = (box.x0 + box.x1) / 2;
  const cy = (box.y0 + box.y1) / 2;
  return (
    <g>
      <defs>
        <clipPath id="clip3">
          <rect x={box.x0} y={box.y0} width={box.x1 - box.x0} height={box.y1 - box.y0} />
        </clipPath>
      </defs>
      <g clipPath="url(#clip3)">
        {Y_SIM.map((s, i) => (
          <path key={i} d={line(s) || ''} fill="none" stroke={BLUE} strokeWidth={1.15} />
        ))}
      </g>
      <Frame box={box} xs={xs} ys={ys} xticks={Y_XTICKS} yticks={Y_YTICKS} />
      <text x={cx} y={416} textAnchor="middle" fontSize={FS} fontFamily={FONT}>
        Simulated values of y<tspan dy={8.5} fontSize={SFS}>t</tspan>
      </text>
      <text x={cx} y={box.y1 + 47.5} textAnchor="middle" fontSize={FS} fontFamily={FONT}>t</text>
      <text transform={`translate(42,${cy - 2}) rotate(-90)`} textAnchor="middle" fontSize={FS} fontFamily={FONT}>
        y<tspan dy={8.5} fontSize={SFS}>t</tspan>
      </text>
    </g>
  );
}

export default function App() {
  return (
    <svg width={1045} height={770} style={{ position: 'absolute', left: 0, top: 0, background: '#fff' }}>
      <rect x={0} y={0} width={1045} height={770} fill="#fff" />
      <KappaPanel box={P1} hist={K1_HIST} sims={K1_SIM} ydom={K1_YDOM} yticks={K1_YTICKS} idx={1} clipId="clip1" ylabX={33.3} />
      <KappaPanel box={P2} hist={K2_HIST} sims={K2_SIM} ydom={K2_YDOM} yticks={K2_YTICKS} idx={2} clipId="clip2" ylabX={573.3} />
      <YPanel box={P3} />
    </svg>
  );
}
